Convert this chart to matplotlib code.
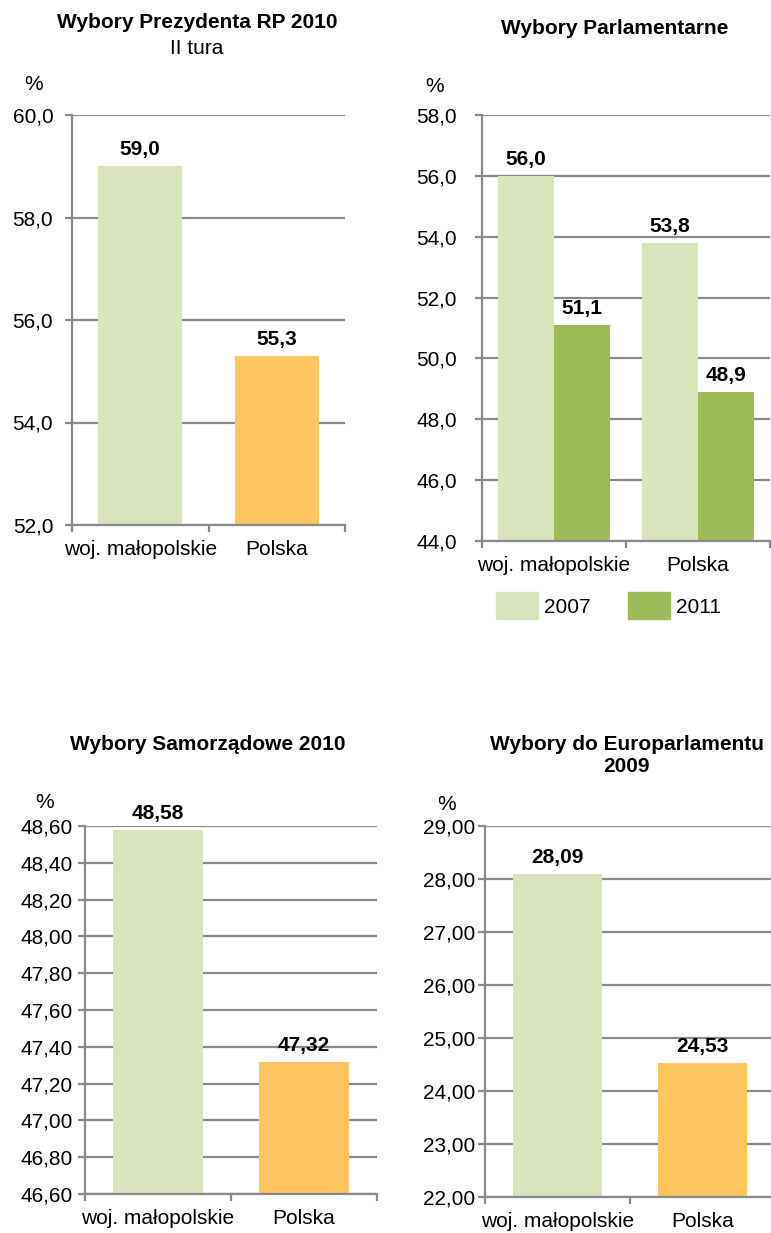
import matplotlib
matplotlib.use("Agg")
import matplotlib.pyplot as plt
from matplotlib.patches import Patch
from matplotlib.ticker import FuncFormatter, FixedLocator

plt.rcParams["font.family"] = ["Liberation Sans", "DejaVu Sans"]

W, H = 771, 1233
FS = 15

regions = ["woj. małopolskie", "Polska"]

# Prezydent 2010, II tura
pres_values = [59.0, 55.3]
# Parlamentarne 2007 / 2011
parl_years = ["2007", "2011"]
parl_2007 = [56.0, 53.8]
parl_2011 = [51.1, 48.9]
# Samorządowe 2010
samo_values = [48.58, 47.32]
# Europarlament 2009
euro_values = [28.09, 24.53]

LIGHT = "#d7e4bd"
ORANGE = "#ffc55f"
DARK = "#9bbb59"
GRID = "#898989"


def px_axes(fig, left, top, right, bottom):
    return fig.add_axes([left / W, 1 - bottom / H, (right - left) / W, (bottom - top) / H])


def style(ax, ymin, ymax, step, decimals, ypad):
    ax.set_xlim(-0.5, 1.5)
    ax.set_ylim(ymin, ymax)
    n = int(round((ymax - ymin) / step))
    ax.yaxis.set_major_locator(FixedLocator([ymin + i * step for i in range(n + 1)]))
    ax.yaxis.set_major_formatter(
        FuncFormatter(lambda v, _: f"{v:.{decimals}f}".replace(".", ","))
    )
    ax.grid(axis="y", color=GRID, linewidth=1.6)
    ax.set_axisbelow(True)
    for s in ("top", "right"):
        ax.spines[s].set_visible(False)
    for s in ("left", "bottom"):
        ax.spines[s].set_color(GRID)
        ax.spines[s].set_linewidth(1.6)
    ax.tick_params(axis="y", length=5, width=1.6, color=GRID, labelsize=FS, pad=ypad)
    ax.set_xticks([0, 1])
    ax.set_xticklabels(regions)
    ax.tick_params(axis="x", length=0, labelsize=FS, pad=10.5)
    ax.set_xticks([-0.5, 0.5, 1.5], minor=True)
    ax.tick_params(axis="x", which="minor", length=5, width=1.6, color=GRID)


def label(ax, x, v, text):
    ax.annotate(text, (x, v), xytext=(0, 5), textcoords="offset points",
                ha="center", va="bottom", fontsize=FS, fontweight="bold",
                annotation_clip=False)


def fmt(v, d):
    return f"{v:.{d}f}".replace(".", ",")


def ftext(fig, x, y, s, **kw):
    fig.text(x / W, 1 - y / H, s, ha="center", va="center", fontsize=FS, **kw)


fig = plt.figure(figsize=(W / 100, H / 100), dpi=100)
xs = [0, 1]

# Wybory Prezydenta RP 2010
ax = px_axes(fig, 72, 115, 345, 525)
style(ax, 52.0, 60.0, 2.0, 1, ypad=8.5)
ax.bar(xs, pres_values, width=0.615, color=[LIGHT, ORANGE], zorder=2)
for x, v in zip(xs, pres_values):
    label(ax, x, v, fmt(v, 1))
ftext(fig, 197, 22, "Wybory Prezydenta RP 2010", fontweight="bold")
ftext(fig, 197, 48, "II tura")
ftext(fig, 34, 85, "%")

# Wybory Parlamentarne
ax = px_axes(fig, 482, 115, 770, 541)
style(ax, 44.0, 58.0, 2.0, 1, ypad=13)
bw = 0.39
ax.bar([x - bw / 2 for x in xs], parl_2007, width=bw, color=LIGHT, zorder=2)
ax.bar([x + bw / 2 for x in xs], parl_2011, width=bw, color=DARK, zorder=2)
for x, v in zip(xs, parl_2007):
    label(ax, x - bw / 2, v, fmt(v, 1))
for x, v in zip(xs, parl_2011):
    label(ax, x + bw / 2, v, fmt(v, 1))
ax.legend([Patch(color=LIGHT), Patch(color=DARK)], parl_years, ncol=2,
          loc="center", bbox_to_anchor=(0.44, -0.152), frameon=False, fontsize=FS,
          handlelength=2.0, handleheight=1.6, columnspacing=1.8, handletextpad=0.3)
ftext(fig, 615, 29, "Wybory Parlamentarne", fontweight="bold")
ftext(fig, 435, 87, "%")

# Wybory Samorządowe 2010
ax = px_axes(fig, 85, 826, 377, 1194)
style(ax, 46.60, 48.60, 0.20, 2, ypad=4)
ax.bar(xs, samo_values, width=0.62, color=[LIGHT, ORANGE], zorder=2)
for x, v in zip(xs, samo_values):
    label(ax, x, v, fmt(v, 2))
ftext(fig, 208, 745, "Wybory Samorządowe 2010", fontweight="bold")
ftext(fig, 45, 802, "%")

# Wybory do Europarlamentu 2009
ax = px_axes(fig, 485, 826, 775, 1197)
style(ax, 22.00, 29.00, 1.00, 2, ypad=2)
ax.bar(xs, euro_values, width=0.62, color=[LIGHT, ORANGE], zorder=2)
for x, v in zip(xs, euro_values):
    label(ax, x, v, fmt(v, 2))
ftext(fig, 627, 745, "Wybory do Europarlamentu", fontweight="bold")
ftext(fig, 627, 767, "2009", fontweight="bold")
ftext(fig, 447, 805, "%")

fig.savefig("out.png", dpi=100)
